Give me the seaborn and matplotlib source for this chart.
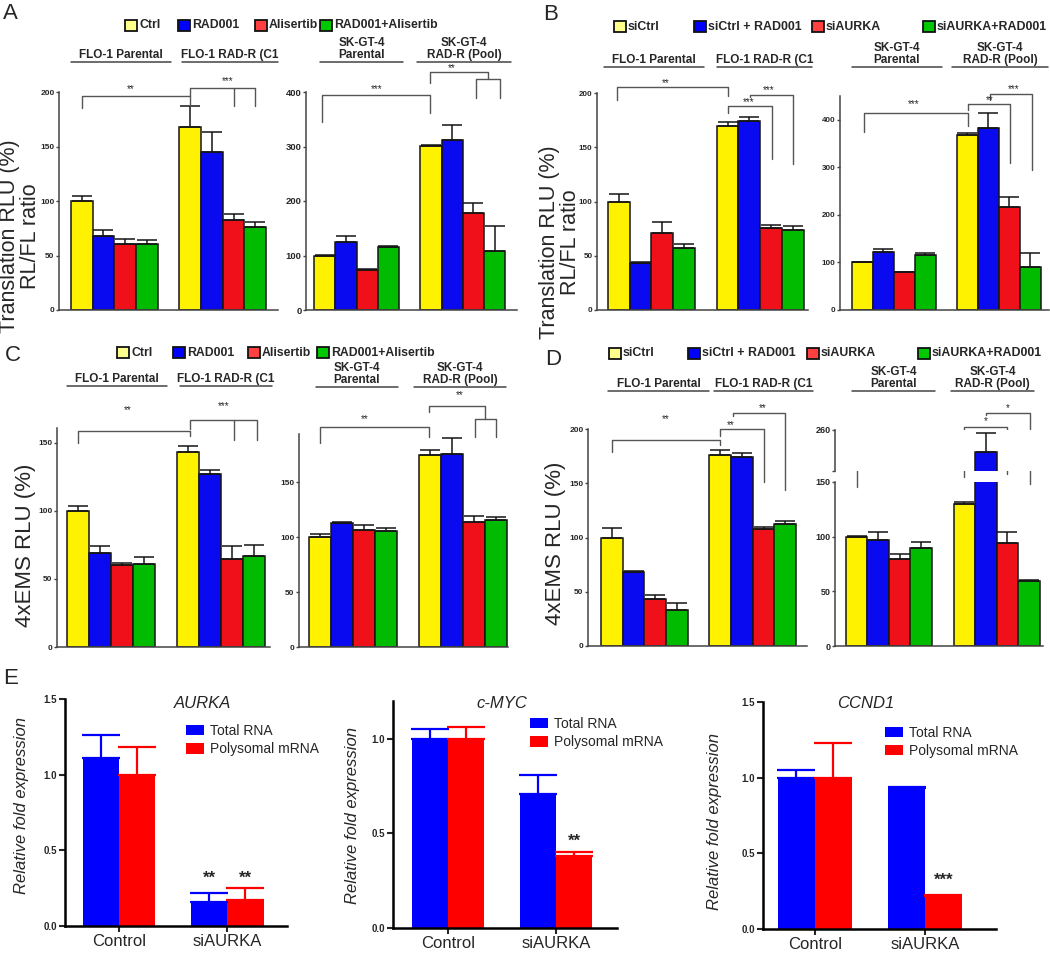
import numpy as np
import pandas as pd
import matplotlib
matplotlib.use('Agg')
import matplotlib.pyplot as plt
from matplotlib.patches import Rectangle
from matplotlib.lines import Line2D
import seaborn as sns

# ---------------- data ----------------
groups = ['Parental', 'RAD-R']
drug_names = ['Ctrl', 'RAD001', 'Alisertib', 'RAD001+Alisertib']
si_names = ['siCtrl', 'siCtrl + RAD001', 'siAURKA', 'siAURKA+RAD001']

# order: Parental (4 treatments), then RAD-R (4 treatments); errors are SEM (upper only)
a_flo = [100, 68, 61, 61, 168, 145, 83, 76]
a_flo_err = [5, 5, 4, 3, 19, 18, 5, 5]
a_sk = [100, 125, 73, 115, 301, 312, 178, 109]
a_sk_err = [1, 11, 3, 2, 1, 27, 18, 45]
b_flo = [100, 43, 71, 57, 170, 174, 76, 74]
b_flo_err = [7, 1, 10, 4, 3, 4, 2, 3]
b_sk = [100, 121, 79, 115, 368, 382, 217, 91]
b_sk_err = [1, 7, 1, 5, 4, 32, 21, 28]
c_flo = [100, 69, 60, 61, 143, 127, 65, 67]
c_flo_err = [4, 5, 2, 5, 5, 3, 9, 8]
c_sk = [100, 113, 107, 106, 175, 176, 114, 116]
c_sk_err = [3, 1, 4, 2, 4, 14, 5, 2]
d_flo = [100, 68, 43, 33, 176, 174, 108, 112]
d_flo_err = [9, 1, 4, 7, 5, 4, 2, 3]
d_sk = [100, 97, 80, 90, 130, 227, 94, 59]
d_sk_err = [1, 7, 4, 5, 2, 28, 10, 1]

conditions = ['Control', 'siAURKA']
fractions = ['Total RNA', 'Polysomal mRNA']
genes = ['AURKA', 'c-MYC', 'CCND1']
# order: Control total, Control polysomal, siAURKA total, siAURKA polysomal
aurka = [1.11, 1.00, 0.16, 0.17]
aurka_err = [0.15, 0.18, 0.06, 0.08]
myc = [1.00, 1.00, 0.71, 0.38]
myc_err = [0.05, 0.06, 0.10, 0.02]
ccnd1 = [1.00, 1.00, 0.93, 0.22]
ccnd1_err = [0.05, 0.23, 0.01, 0.005]

bar_colors = ['#fff200', '#0a0af0', '#f0101a', '#00bb00']
legend_colors = ['#ffff8c', '#0000ff', '#ff4040', '#00c800']
e_colors = ['#0000ff', '#ff0000']

sns.set_style('white')
plt.rcParams['font.family'] = ['Liberation Sans', 'DejaVu Sans']

W, H = 1050, 959
fig = plt.figure(figsize=(W / 100, H / 100), dpi=100)


def fx(x):
    return x / W


def fy(y):
    return 1 - y / H


def add_ax(x0, y0, x1, y1):
    return fig.add_axes([fx(x0), fy(y1), (x1 - x0) / W, (y1 - y0) / H])


def bar_list(ax):
    # real bars only, left to right
    return sorted([b for c in ax.containers for b in c], key=lambda p: p.get_x())


def bar_panel(ax, vals, errs, names, xlim, ylim, yticks, fs, ylabels=None):
    df = pd.DataFrame({'group': np.repeat(groups, 4), 'treatment': names * 2, 'value': vals})
    sns.barplot(data=df, x='group', y='value', hue='treatment', hue_order=names,
                palette=bar_colors, saturation=1, width=0.8, edgecolor='#151515',
                linewidth=1.1, errorbar=None, legend=False, ax=ax)
    xs = [b.get_x() + b.get_width() / 2 for b in bar_list(ax)]
    ax.errorbar(xs, vals, yerr=[np.zeros(len(errs)), errs], fmt='none', ecolor='#151515',
                elinewidth=1.1, capsize=7, capthick=1.1)
    ax.set_xlim(*xlim)
    ax.set_ylim(*ylim)
    ax.set_yticks(yticks)
    if ylabels is not None:
        ax.set_yticklabels(ylabels)
    ax.set_xticks([])
    ax.set_xlabel('')
    ax.set_ylabel('')
    ax.spines[['top', 'right']].set_visible(False)
    for s in ['left', 'bottom']:
        ax.spines[s].set_color('#444')
        ax.spines[s].set_linewidth(1.1)
    ax.tick_params(axis='y', labelsize=fs, length=2.5, width=1, color='#444', pad=0.8, left=True)
    for t in ax.get_yticklabels():
        t.set_fontweight('bold')


def sig(ax, segs, label, tx, ty, fs=7):
    for xs_, ys_ in segs:
        ax.plot(xs_, ys_, color='#555', lw=1, clip_on=False)
    ax.text(tx, ty, label, ha='center', va='center', fontsize=fs, clip_on=False)


def group_label(x0, x1, y, text):
    fig.add_artist(Line2D([fx(x0), fx(x1)], [fy(y), fy(y)], color='#444', lw=1.1))
    fig.text(fx((x0 + x1) / 2), fy(y - 1), text, ha='center', va='bottom', fontsize=8.5,
             fontweight='bold', linespacing=1.0)


def legend_item(x, y, color, label, fs, w=12, h=11):
    fig.add_artist(Rectangle((fx(x), fy(y + h)), w / W, h / H, transform=fig.transFigure,
                             facecolor=color, edgecolor='#111', lw=1.3))
    fig.text(fx(x + w + 2), fy(y + h / 2), label, ha='left', va='center', fontsize=fs,
             fontweight='bold')


# ---------------- panel A ----------------
ax = add_ax(59, 92, 278, 310)
bar_panel(ax, a_flo, a_flo_err, drug_names, (-0.51, 1.51), (0, 200), [0, 50, 100, 150, 200], 6)
sig(ax, [([-0.3, -0.3, 0.7, 0.7], [185, 196, 196, 187])], '**', 0.15, 203)
sig(ax, [([0.7, 0.7, 1.3, 1.3], [196, 204, 204, 187]), ([1.1, 1.1], [204, 187])], '***', 1.05, 210)

ax = add_ax(306, 92, 517, 310)
bar_panel(ax, a_sk, a_sk_err, drug_names, (-0.476, 1.51), (0, 400), [0, 100, 200, 300, 400], 6.8)
sig(ax, [([-0.33, -0.33, 0.69, 0.69], [345, 395, 395, 361])], '***', 0.19, 405)
sig(ax, [([0.69, 0.69, 1.24, 1.24], [416, 436, 436, 424]),
         ([1.12, 1.12, 1.35, 1.35], [389, 424, 424, 389])], '**', 0.9, 443)

# ---------------- panel B ----------------
ax = add_ax(597, 93, 808, 310)
bar_panel(ax, b_flo, b_flo_err, si_names, (-0.50, 1.44), (0, 200), [0, 50, 100, 150, 200], 5.8)
sig(ax, [([-0.315, -0.315, 0.7, 0.7], [194, 205.5, 205.5, 197])], '**', 0.13, 209)
sig(ax, [([0.7, 0.7, 1.106, 1.106], [181.5, 188, 188, 139])], '***', 0.89, 192)
sig(ax, [([0.91, 0.91, 1.3, 1.3], [196, 198.5, 198.5, 135])], '***', 1.08, 203)

ax = add_ax(840, 96, 1049, 310)
bar_panel(ax, b_sk, b_sk_err, si_names, (-0.51, 1.48), (0, 450), [0, 100, 200, 300, 400], 5.8)
sig(ax, [([-0.28, -0.28, 0.71, 0.71], [375, 415, 415, 387])], '***', 0.19, 434)
sig(ax, [([0.71, 0.71, 1.11, 1.11], [421, 433, 433, 309])], '**', 0.92, 442)
sig(ax, [([0.92, 0.92, 1.32, 1.32], [442, 454, 454, 295])], '***', 1.14, 465)

# ---------------- panel C ----------------
ax = add_ax(57, 428, 270, 647)
bar_panel(ax, c_flo, c_flo_err, drug_names, (-0.49, 1.445), (0, 161), [0, 50, 100, 150], 6)
sig(ax, [([-0.3, -0.3, 0.72, 0.72], [150, 159, 159, 155])], '**', 0.155, 174)
sig(ax, [([0.72, 0.72, 1.33, 1.33], [160, 166.7, 166.7, 152]), ([1.12, 1.12], [166.7, 152])],
    '***', 1.02, 177)

ax = add_ax(299, 434, 508, 647)
bar_panel(ax, c_sk, c_sk_err, drug_names, (-0.49, 1.41), (0, 194), [0, 50, 100, 150], 6)
sig(ax, [([-0.3, -0.3, 0.69, 0.69], [185.6, 200.8, 200.8, 191])], '**', 0.11, 208)
sig(ax, [([0.69, 0.69, 1.2, 1.2], [213.6, 219.6, 219.6, 207.5]),
         ([1.11, 1.11, 1.3, 1.3], [191, 207.5, 207.5, 191])], '**', 0.97, 229)

# ---------------- panel D ----------------
ax = add_ax(588, 429, 807, 646)
bar_panel(ax, d_flo, d_flo_err, si_names, (-0.52, 1.50), (0, 200), [0, 50, 100, 150, 200], 6)
sig(ax, [([-0.3, -0.3, 0.7, 0.7], [179, 190, 190, 185.5])], '**', 0.2, 209)
sig(ax, [([0.7, 0.7, 1.1, 1.1], [194, 200, 200, 150.8])], '**', 0.8, 204)
sig(ax, [([0.82, 0.82, 1.3, 1.3], [212, 214.8, 214.8, 144])], '**', 1.09, 219)

# broken y axis: lower and upper part
ax = add_ax(835, 482, 1043, 646)
bar_panel(ax, d_sk, d_sk_err, si_names, (-0.50, 1.43), (0, 150), [0, 50, 100, 150], 6.5)
sig(ax, [([-0.3, -0.3, 0.7, 0.7], [145.7, 173, 173, 154.9])], '*', 0.19, 180)
sig(ax, [([0.7, 0.7, 1.1, 1.1], [194.5, 200.6, 200.6, 157])], '*', 0.9, 206)
sig(ax, [([0.9, 0.9, 1.31, 1.31], [211, 212.8, 212.8, 148])], '*', 1.1, 218)

ax = add_ax(835, 430, 1043, 470.7)
bar_panel(ax, d_sk, d_sk_err, si_names, (-0.50, 1.43), (200, 260), [200, 260], 6.5,
          ylabels=['', '260'])
ax.spines['bottom'].set_visible(False)

# ---------------- group labels / legends / axis titles ----------------
for x0, x1, y in [(71, 171, 62), (604, 704, 67), (67, 167, 386), (608, 709, 391)]:
    group_label(x0, x1, y, 'FLO-1 Parental')
for x0, x1, y in [(182, 278, 62), (717, 812, 67), (180, 272, 386), (714, 813, 391)]:
    group_label(x0, x1, y, 'FLO-1 RAD-R (C1')
for x0, x1, y in [(320, 403, 62), (852, 942, 67), (316, 398, 387), (852, 935, 391)]:
    group_label(x0, x1, y, 'SK-GT-4\nParental')
for x0, x1, y in [(417, 511, 62), (952, 1048, 67), (414, 506, 387), (951, 1034, 391)]:
    group_label(x0, x1, y, 'SK-GT-4\nRAD-R (Pool)')

for xs, y, names, fs in [([125, 178, 255, 320], 20, drug_names, 8.8),
                         ([117, 173, 248, 317], 347, drug_names, 8.8),
                         ([614, 694, 812, 923], 21, si_names, 8.9),
                         ([609, 688, 807, 918], 348, si_names, 8.9)]:
    for x, c, n in zip(xs, legend_colors, names):
        legend_item(x, y, c, n, fs)

fig.text(fx(20), fy(236), 'Translation RLU (%)\nRL/FL ratio', rotation=90, ha='center',
         va='center', fontsize=15.5, linespacing=0.95)
fig.text(fx(560), fy(242), 'Translation RLU (%)\nRL/FL ratio', rotation=90, ha='center',
         va='center', fontsize=15.5, linespacing=0.95)
fig.text(fx(26), fy(545), '4xEMS RLU (%)', rotation=90, ha='center', va='center', fontsize=16)
fig.text(fx(556), fy(543), '4xEMS RLU (%)', rotation=90, ha='center', va='center', fontsize=16)

for letter, x, y in [('A', 3, 3), ('B', 543, 4), ('C', 5, 345), ('D', 545, 349), ('E', 3, 668)]:
    fig.text(fx(x), fy(y), letter, ha='left', va='top', fontsize=16)

# ---------------- panel E ----------------
e_specs = [
    (aurka, aurka_err, (65, 699, 287, 926), (-0.5, 1.55), (0, 1.5), [0, 0.5, 1.0, 1.5],
     [(2, '**', 0.315), (3, '**', 0.315)], (0.545, 0.89), (203, 703), (22, 805)),
    (myc, myc_err, (393, 701, 617, 928), (-0.51, 1.565), (0, 1.2), [0, 0.5, 1.0],
     [(3, '**', 0.457)], (0.612, 0.93), (502, 703), (352, 815)),
    (ccnd1, ccnd1_err, (763, 702, 996, 929), (-0.47, 1.645), (0, 1.5), [0, 0.5, 1.0, 1.5],
     [(3, '***', 0.32)], (0.524, 0.895), (866, 703), (714, 822)),
]
for gene, (vals, errs, rect, xlim, ylim, yticks, stars, lg, tpos, lpos) in zip(genes, e_specs):
    ax = add_ax(*rect)
    df = pd.DataFrame({'condition': np.repeat(conditions, 2), 'fraction': fractions * 2,
                       'value': vals})
    sns.barplot(data=df, x='condition', y='value', hue='fraction', hue_order=fractions,
                palette=e_colors, saturation=1, width=0.667, linewidth=0, errorbar=None, ax=ax)
    bars = bar_list(ax)
    xs = [b.get_x() + b.get_width() / 2 for b in bars]
    for x, b, v, e in zip(xs, bars, vals, errs):
        ax.errorbar([x], [v], yerr=[[0], [e]], fmt='none', ecolor=b.get_facecolor(),
                    elinewidth=1.6, capsize=14, capthick=1.6)
    for i, s, y in stars:
        ax.text(xs[i], y, s, ha='center', va='center', fontsize=12, fontweight='bold')
    ax.set_xlim(*xlim)
    ax.set_ylim(*ylim)
    ax.set_yticks(yticks)
    ax.set_yticklabels([f'{t:.1f}' for t in yticks])
    ax.set_xlabel('')
    ax.set_ylabel('')
    ax.spines[['top', 'right']].set_visible(False)
    for s in ['left', 'bottom']:
        ax.spines[s].set_color('black')
        ax.spines[s].set_linewidth(1.8)
    ax.tick_params(axis='y', labelsize=7, length=4, width=1.5, left=True, pad=2)
    ax.tick_params(axis='x', labelsize=12, length=4, width=1.5, bottom=True, pad=2)
    for t in ax.get_yticklabels():
        t.set_fontweight('bold')
    sns.move_legend(ax, 'upper left', bbox_to_anchor=lg, frameon=False, title=None,
                    fontsize=10, borderaxespad=0, borderpad=0, handlelength=1.3,
                    handleheight=0.8, handletextpad=0.4, labelspacing=0.3)
    fig.text(fx(tpos[0]), fy(tpos[1]), gene, ha='center', va='center', fontsize=12,
             style='italic')
    fig.text(fx(lpos[0]), fy(lpos[1]), 'Relative fold expression', rotation=90, ha='center',
             va='center', fontsize=12, style='italic')

fig.savefig('out.png', dpi=100)
